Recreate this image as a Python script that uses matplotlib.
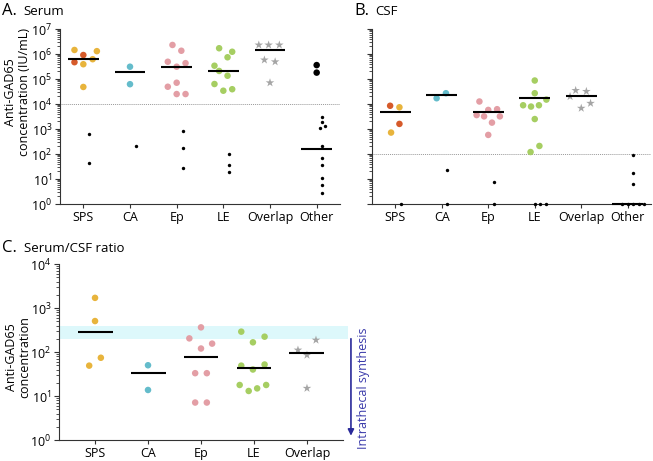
import matplotlib
matplotlib.use('Agg')
import matplotlib.pyplot as plt
from matplotlib.ticker import LogLocator, NullFormatter
import numpy as np

plt.rcParams['font.family'] = ['Open Sans', 'DejaVu Sans']

# ---- data ----
cats_ab = ['SPS', 'CA', 'Ep', 'LE', 'Overlap', 'Other']
cats_c = ['SPS', 'CA', 'Ep', 'LE', 'Overlap']

# A. Serum (IU/mL): positive values, low/negative values, medians
serum_vals = [[1.45e6, 9.1e5, 4.7e5, 6.2e5, 3.9e5, 1.3e6, 4.8e4],
              [3.1e5, 6.2e4],
              [2.3e6, 1.35e6, 4.9e5, 4.3e5, 3.1e5, 7.1e4, 4.9e4, 2.5e4, 2.5e4],
              [1.7e6, 1.23e6, 7.4e5, 3.4e5, 2.1e5, 1.35e5, 6.3e4, 3.9e4, 3.4e4],
              [2.3e6, 2.3e6, 2.3e6, 5.8e5, 4.9e5, 7.1e4],
              [3.6e5, 1.8e5]]
serum_dx = [[-0.19, 0, -0.19, 0.2, 0, 0.29, 0],
            [0, 0],
            [-0.09, 0.1, -0.19, 0.19, 0, 0, -0.19, 0, 0.19],
            [-0.09, 0.19, 0.09, -0.19, -0.09, 0.09, -0.19, 0.19, 0],
            [-0.24, -0.03, 0.2, -0.12, 0.11, 0],
            [0, 0]]
serum_sps_dark = [0, 1, 1, 0, 0, 0, 0]
serum_low = [[630, 44], [215], [850, 170, 27], [98, 36, 18.6], [],
             [3.1e3, 1.9e3, 1.35e3, 1.07e3, 214, 71, 36, 10.7, 5.8, 2.7]]
serum_low_dx = [[0.13, 0.13], [0.13], [0.13, 0.13, 0.13], [0.13, 0.13, 0.13], [],
                [0.12, 0.12, 0.17, 0.08, 0.12, 0.12, 0.12, 0.12, 0.12, 0.12]]
serum_med = [6.2e5, 1.85e5, 3.1e5, 2.1e5, 1.45e6, 155]

# B. CSF
csf_vals = [[8.5e3, 7.4e3, 1.6e3, 720],
            [1.7e4, 2.7e4],
            [1.26e4, 3.6e3, 3.2e3, 5.8e3, 6.2e3, 3.2e3, 1.8e3, 580],
            [8.7e4, 2.7e4, 1.5e4, 8.9e3, 7.9e3, 8.9e3, 2.5e3, 210, 120],
            [2.0e4, 3.5e4, 3.2e4, 6.8e3, 1.07e4],
            []]
csf_dx = [[-0.11, 0.09, 0.09, -0.09],
          [-0.11, 0.09],
          [-0.19, -0.25, -0.09, 0, 0.19, 0.25, 0.08, 0],
          [0, 0, 0.25, -0.25, -0.08, 0.09, 0, 0.1, -0.09],
          [-0.24, -0.12, 0.11, 0, 0.2],
          []]
csf_sps_dark = [1, 0, 1, 0]
csf_low = [[1], [22, 1], [7.4, 1], [1, 1, 1], [], [89, 18, 6.3, 1, 1, 1, 1, 1]]
csf_low_dx = [[0.12], [0.12, 0.12], [0.12, 0.12], [0.0, 0.12, 0.25], [],
              [0.11, 0.11, 0.11, -0.12, 0, 0.12, 0.24, 0.36]]
csf_med = [4.7e3, 2.2e4, 4.7e3, 1.8e4, 2.0e4, 1]

# C. Serum/CSF ratio
ratio_vals = [[1.7e3, 505, 74, 49],
              [50, 13.7],
              [363, 204, 155, 120, 33, 33, 7.1, 7.1],
              [290, 223, 166, 49, 52, 40, 17.8, 17.8, 13, 14.9],
              [111, 187, 85, 15]]
ratio_dx = [[0, 0, 0.11, -0.11],
            [0, 0],
            [0, -0.22, 0.21, 0, -0.11, 0.11, -0.11, 0.11],
            [-0.24, 0.2, -0.02, -0.24, 0.2, -0.02, -0.27, 0.23, -0.1, 0.06],
            [-0.17, 0.17, 0, 0]]
ratio_med = [290, 34, 76, 44, 96]
band_lo, band_hi = 200, 400

# ---- style ----
yellow = '#E8B43C'
dark = '#D65A2A'
group_cols = [yellow, '#64BCCB', '#E39EA5', '#A6CE62', '#A5A5A5', 'black']
spine_col = '#333333'
fs = 9


def style_axes(ax, cats, xlim, ylim, labels=True):
    ax.set_yscale('log')
    ax.set_ylim(*ylim)
    ax.set_xlim(*xlim)
    ax.set_xticks(range(len(cats)))
    ax.set_xticklabels(cats, fontsize=fs)
    for s in ['top', 'right']:
        ax.spines[s].set_visible(False)
    for s in ['left', 'bottom']:
        ax.spines[s].set_linewidth(0.8)
        ax.spines[s].set_color(spine_col)
    ax.yaxis.set_major_locator(LogLocator(base=10, numticks=12))
    ax.yaxis.set_minor_locator(LogLocator(base=10, subs=np.arange(2, 10), numticks=12))
    ax.yaxis.set_minor_formatter(NullFormatter())
    ax.tick_params(axis='both', which='major', length=3.5, width=0.8, color=spine_col,
                   labelsize=fs, pad=2)
    ax.tick_params(axis='y', which='minor', length=2, width=0.6, color=spine_col)
    ax.tick_params(axis='x', which='major', length=3)
    if not labels:
        ax.tick_params(axis='y', which='both', labelleft=False)


def draw_group(ax, i, vals, dx, dark_flags=None, star=False, low=None, low_dx=None,
               med=None, col=None):
    if vals:
        cols = [col] * len(vals)
        if dark_flags is not None:
            cols = [dark if d else col for d in dark_flags]
        x = [i + d for d in dx]
        if star:
            ax.scatter(x, vals, s=42, marker='*', c=cols, linewidths=0, zorder=3,
                       clip_on=False)
        else:
            ax.scatter(x, vals, s=22, c=cols, linewidths=0, zorder=3, clip_on=False)
    if low:
        ax.scatter([i + d for d in low_dx], low, s=6, c='black', linewidths=0,
                   zorder=3, clip_on=False)
    if med is not None:
        ax.plot([i - 0.33, i + 0.33], [med, med], color='black', lw=1.5, zorder=4,
                solid_capstyle='butt', clip_on=False)


fig = plt.figure(figsize=(6.53, 4.61), dpi=100)

axA = fig.add_axes([60 / 653, 1 - 204 / 461, 280 / 653, 175 / 461])
axB = fig.add_axes([372 / 653, 1 - 204 / 461, 279 / 653, 175 / 461])
axC = fig.add_axes([59 / 653, 1 - 440 / 461, 284 / 653, 176 / 461])

# Panel A
style_axes(axA, cats_ab, (-0.5, 5.5), (1, 1e7))
axA.axhline(1e4, color='#999999', lw=0.7, ls=(0, (1, 1)), zorder=1)
for i in range(len(cats_ab)):
    draw_group(axA, i, serum_vals[i], serum_dx[i],
               dark_flags=serum_sps_dark if i == 0 else None,
               star=(i == 4), low=serum_low[i], low_dx=serum_low_dx[i],
               med=serum_med[i], col=group_cols[i])
axA.set_ylabel('Anti-GAD65\nconcentration (IU/mL)', fontsize=fs, va='center',
               linespacing=1.1)
axA.yaxis.set_label_coords(-0.152, 0.64)

# Panel B
style_axes(axB, cats_ab, (-0.5, 5.5), (1, 1e7), labels=False)
axB.axhline(1e2, color='#999999', lw=0.7, ls=(0, (1, 1)), zorder=1)
for i in range(len(cats_ab)):
    draw_group(axB, i, csf_vals[i], csf_dx[i],
               dark_flags=csf_sps_dark if i == 0 else None,
               star=(i == 4), low=csf_low[i], low_dx=csf_low_dx[i],
               med=csf_med[i], col=group_cols[i])

# Panel C
style_axes(axC, cats_c, (-0.68, 4.68), (1, 1e4))
axC.fill_between([-0.68, 4.77], band_lo, band_hi, color='#DDF8FB', lw=0,
                 zorder=0, clip_on=False)
for i in range(len(cats_c)):
    draw_group(axC, i, ratio_vals[i], ratio_dx[i], star=(i == 4),
               med=ratio_med[i], col=group_cols[i])
axC.annotate('', xy=(4.83, 1.25), xytext=(4.83, band_lo),
             arrowprops=dict(arrowstyle='-|>', color='#2A2A9A', lw=1.2,
                             mutation_scale=9, shrinkA=0, shrinkB=0),
             annotation_clip=False)
axC.text(5.07, 15, 'Intrathecal synthesis', rotation=90, color='#3A3AAA',
         fontsize=fs, ha='center', va='center', clip_on=False)
axC.set_ylabel('Anti-GAD65\nconcentration', fontsize=fs, va='center', linespacing=1.1)
axC.yaxis.set_label_coords(-0.144, 0.47)

# panel titles
for x0, x1, yb, letter, name in [(2, 23, 15, 'A.', 'Serum'),
                                 (354, 375, 15, 'B.', 'CSF'),
                                 (2, 24, 252, 'C.', 'Serum/CSF ratio')]:
    fig.text(x0 / 653, 1 - yb / 461, letter, fontsize=12, va='baseline', ha='left')
    fig.text(x1 / 653, 1 - yb / 461, name, fontsize=9.5, va='baseline', ha='left')

fig.savefig('out.png', dpi=100)
